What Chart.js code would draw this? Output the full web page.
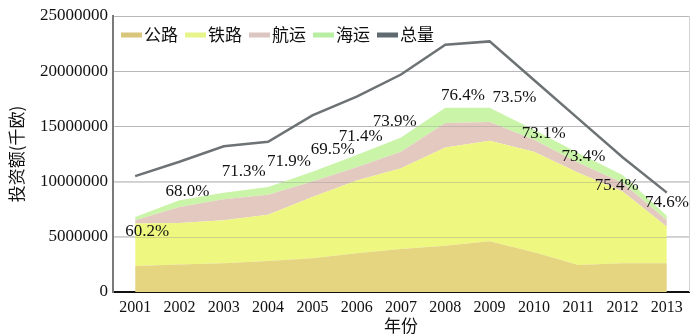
<!DOCTYPE html>
<html>
<head>
<meta charset="utf-8">
<script src="https://cdn.jsdelivr.net/npm/chart.js@4.4.1/dist/chart.umd.min.js"></script>
<style>
  html, body { margin: 0; padding: 0; background: #fff; }
  #wrap { width: 700px; height: 336px; }
</style>
</head>
<body>
<div id="wrap"><canvas id="invest"></canvas></div>
<script>
// 数据（千欧）
const years = ['2001', '2002', '2003', '2004', '2005', '2006', '2007', '2008', '2009', '2010', '2011', '2012', '2013'];
const road  = [2350000, 2500000, 2600000, 2800000, 3050000, 3500000, 3900000, 4200000, 4600000, 3600000, 2450000, 2600000, 2600000];
const rail  = [3850000, 3750000, 3900000, 4200000, 5550000, 6600000, 7300000, 8900000, 9100000, 9100000, 8350000, 6500000, 3300000];
const inland = [300000, 1450000, 1900000, 1800000, 1400000, 1200000, 1500000, 2200000, 1700000, 1100000, 900000, 800000, 600000];
const sea   = [300000, 600000, 600000, 700000, 900000, 1100000, 1300000, 1400000, 1300000, 900000, 900000, 700000, 400000];
const total = [10500000, 11800000, 13200000, 13600000, 16000000, 17700000, 19700000, 22400000, 22700000, 19200000, 15700000, 12200000, 9000000];
const shares = ['60.2%', '68.0%', '71.3%', '71.9%', '69.5%', '71.4%', '73.9%', '76.4%', '73.5%', '73.1%', '73.4%', '75.4%', '74.6%'];
const yTicks = [0, 5000000, 10000000, 15000000, 20000000, 25000000];

// 百分比标注的锚点（类别序号, 数值）
const shareAt = [
  [0.27, 5500000], [1.18, 9060000], [2.45, 10870000], [3.47, 11780000],
  [4.46, 12950000], [5.09, 14040000], [5.86, 15400000], [7.40, 17840000],
  [8.56, 17570000], [9.22, 14310000], [10.12, 12230000], [10.87, 9600000], [12.0, 8060000]
];

const serif = "'Liberation Serif', 'DejaVu Serif', serif";
const cjk = "'Noto Sans CJK SC', 'Noto Sans', sans-serif";

const area = (label, data, color, key, fill) => ({
  type: 'line',
  label: label,
  data: data,
  stack: 'modes',
  backgroundColor: color,
  borderColor: color,
  keyColor: key,
  borderWidth: 0,
  pointRadius: 0,
  tension: 0,
  fill: fill
});

// 网格线透过面积图（面积画完、折线画之前）
const gridOver = {
  id: 'gridOver',
  afterDatasetDraw(chart, args) {
    if (args.index !== 0) return;
    const { ctx, chartArea: a, scales: { y } } = chart;
    ctx.save();
    ctx.strokeStyle = 'rgba(140,140,140,0.35)';
    ctx.lineWidth = 1;
    yTicks.slice(1).forEach(v => {
      const py = Math.round(y.getPixelForValue(v)) + 0.5;
      ctx.beginPath();
      ctx.moveTo(a.left, py);
      ctx.lineTo(a.right, py);
      ctx.stroke();
    });
    ctx.restore();
  }
};

// 图例（画在绘图区内，横排）
const inlineLegend = {
  id: 'inlineLegend',
  afterDatasetsDraw(chart) {
    const { ctx, chartArea: a } = chart;
    ctx.save();
    ctx.font = '17px ' + cjk;
    ctx.textBaseline = 'middle';
    ctx.textAlign = 'left';
    let x = a.left + 8;
    const y = a.top + 19;
    chart.data.datasets.forEach(ds => {
      ctx.fillStyle = ds.keyColor || ds.borderColor;
      ctx.fillRect(x, y - 2.5, 21, 5);
      x += 23;
      ctx.fillStyle = '#111';
      ctx.fillText(ds.label, x, y);
      x += ctx.measureText(ds.label).width + 7;
    });
    ctx.restore();
  }
};

// 百分比文字
const shareLabels = {
  id: 'shareLabels',
  afterDatasetsDraw(chart) {
    const { ctx, scales: { x, y } } = chart;
    ctx.save();
    ctx.font = '17px ' + serif;
    ctx.fillStyle = '#111';
    ctx.textAlign = 'center';
    ctx.textBaseline = 'middle';
    shares.forEach((s, i) => {
      ctx.fillText(s, x.getPixelForValue(shareAt[i][0]), y.getPixelForValue(shareAt[i][1]));
    });
    ctx.restore();
  }
};

// 右侧边框
const rightBorder = {
  id: 'rightBorder',
  beforeDatasetsDraw(chart) {
    const { ctx, chartArea: a } = chart;
    ctx.save();
    ctx.strokeStyle = '#d4d4d4';
    ctx.lineWidth = 1;
    ctx.beginPath();
    ctx.moveTo(a.right + 0.5, a.top);
    ctx.lineTo(a.right + 0.5, a.bottom);
    ctx.stroke();
    ctx.restore();
  }
};

new Chart(document.getElementById('invest'), {
  data: {
    labels: years,
    datasets: [
      area('公路', road, '#e5d480', '#d8c67c', 'origin'),
      area('铁路', rail, '#eef780', '#e6f48a', '-1'),
      area('航运', inland, '#e4c9c0', '#dcc6c2', '-1'),
      area('海运', sea, '#caf4a8', '#b7eea2', '-1'),
      {
        type: 'line',
        label: '总量',
        data: total,
        stack: 'total',
        order: -1,
        borderColor: '#6d7274',
        backgroundColor: '#6d7274',
        keyColor: '#5f6a70',
        borderWidth: 2.5,
        pointRadius: 0,
        tension: 0,
        fill: false
      }
    ]
  },
  options: {
    responsive: true,
    maintainAspectRatio: false,
    animation: false,
    layout: { padding: { top: 16, right: 11, left: 0, bottom: 0 } },
    plugins: {
      tooltip: { enabled: false },
      legend: { display: false }
    },
    scales: {
      x: {
        offset: true,
        grid: { display: false, drawTicks: false },
        border: { color: '#111', width: 2 },
        ticks: { color: '#111', font: { family: serif, size: 16 }, padding: 6, maxRotation: 0, autoSkip: false },
        title: { display: true, text: '年份', color: '#111', font: { family: cjk, size: 17 }, padding: { top: 0, bottom: 0 } },
        afterFit(s) { s.height = 44; }
      },
      y: {
        stacked: true,
        min: 0,
        max: 25000000,
        afterBuildTicks(s) { s.ticks = yTicks.map(v => ({ value: v })); },
        grid: { color: '#cfcfcf', lineWidth: 1, drawTicks: false },
        border: { color: '#7a7a7a', width: 2 },
        ticks: { color: '#111', font: { family: serif, size: 17 }, padding: 5, callback: v => String(v) },
        title: { display: true, text: '投资额(千欧)', color: '#111', font: { family: cjk, size: 17 }, padding: { top: 6, bottom: 0 } },
        afterFit(s) { s.width = 113; }
      }
    }
  },
  plugins: [rightBorder, gridOver, inlineLegend, shareLabels]
});
</script>
</body>
</html>
